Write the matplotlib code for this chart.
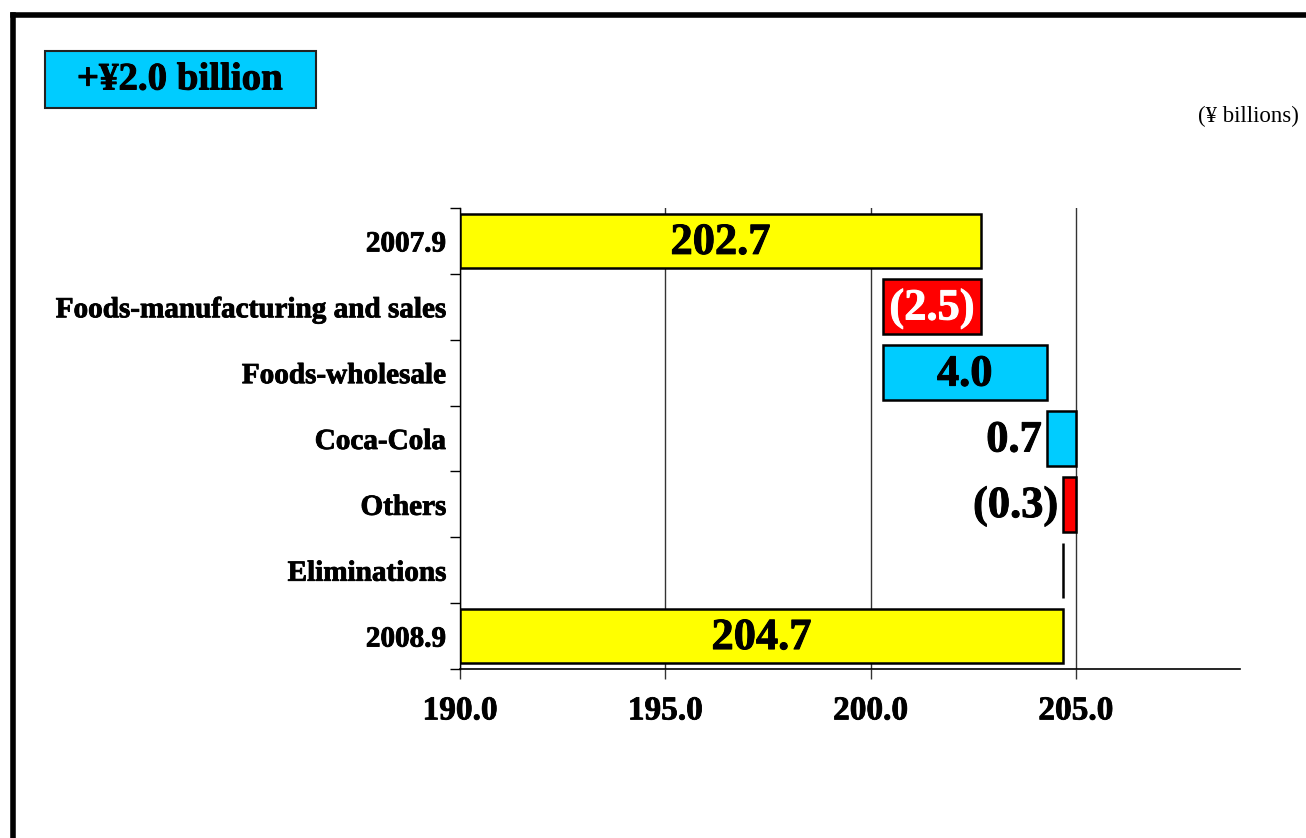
import matplotlib
matplotlib.use("Agg")
import matplotlib.pyplot as plt
import matplotlib.patheffects as pe
from matplotlib.patches import Rectangle
from matplotlib.lines import Line2D
import numpy as np

categories = ["2007.9", "Foods-manufacturing and sales", "Foods-wholesale",
              "Coca-Cola", "Others", "Eliminations", "2008.9"]
start_value = 202.7
changes = [-2.4, 4.0, 0.7, -0.3, 0.0]
end_value = 204.7
value_labels = ["202.7", "(2.5)", "4.0", "0.7", "(0.3)", "", "204.7"]
x_ticks = [190.0, 195.0, 200.0, 205.0]
x_min, x_max = 190.0, 209.0
title_text = "+\u00a52.0 billion"
unit_text = "(\u00a5 billions)"

YELLOW = "#FFFF00"
RED = "#FF0000"
CYAN = "#00CCFF"

plt.rcParams['font.family'] = 'Liberation Serif'

W, H = 1306, 838
fig = plt.figure(figsize=(W/100, H/100), dpi=100)
ax = fig.add_axes([460/W, (H-669)/H, 780/W, 461/H])

heavy = [pe.withStroke(linewidth=0.7, foreground='black')]
heavy_white = [pe.withStroke(linewidth=0.7, foreground='white')]

# compute bars
lefts, widths, colors = [], [], []
lefts.append(x_min); widths.append(start_value - x_min); colors.append(YELLOW)
cum = start_value
for c in changes:
    new = cum + c
    lefts.append(min(cum, new)); widths.append(abs(c))
    colors.append(RED if c < 0 else CYAN)
    cum = new
lefts.append(x_min); widths.append(end_value - x_min); colors.append(YELLOW)

y = np.arange(len(categories))
ax.barh(y, widths, left=lefts, height=0.83, color=colors, edgecolor='black',
        linewidth=1.8, zorder=3)

# value labels
for i, (lab, l, w) in enumerate(zip(value_labels, lefts, widths)):
    if not lab:
        continue
    if i in (3, 4):
        ax.text(l - 0.12, i + 0.03, lab, ha='right', va='center', fontsize=32,
                fontweight='bold', color='black', zorder=4, path_effects=heavy)
    else:
        col = 'white' if colors[i] == RED else 'black'
        ax.text(l + w/2, i + 0.03, lab, ha='center', va='center', fontsize=32,
                fontweight='bold', color=col, zorder=4,
                path_effects=heavy_white if col == 'white' else heavy)

ax.set_xlim(x_min, x_max)
ax.set_ylim(len(categories) - 0.5, -0.5)
ax.set_xticks(x_ticks)
ax.set_xticklabels([f"{t:.1f}" for t in x_ticks], fontsize=24, fontweight='bold')
ax.set_yticks(y)
ax.set_yticklabels(categories, fontsize=21, fontweight='bold')
ax.set_yticks(np.arange(-0.5, len(categories), 1.0), minor=True)
ax.tick_params(axis='y', which='major', length=0, pad=10)
ax.tick_params(axis='y', which='minor', length=7, width=1, direction='out')
ax.tick_params(axis='x', which='major', length=7, width=1, direction='out',
               pad=12, color='#333333')
for t in ax.get_xticklabels() + ax.get_yticklabels():
    t.set_path_effects([pe.withStroke(linewidth=0.6, foreground='black')])

ax.grid(axis='x', color='#333333', linewidth=1, zorder=0)
ax.set_axisbelow(True)
for s in ['top', 'right']:
    ax.spines[s].set_visible(False)
ax.spines['left'].set_linewidth(1)
ax.spines['bottom'].set_linewidth(1.2)

# title box
fig.add_artist(Rectangle((45/W, 1 - 108/H), 271/W, 57/H, transform=fig.transFigure,
                         facecolor=CYAN, edgecolor='#222222', linewidth=1.5))
fig.text(180/W, 1 - 80/H, title_text, ha='center', va='center', fontsize=28,
         fontweight='bold', path_effects=heavy)
# unit label
fig.text(1299/W, 1 - 116/H, unit_text, ha='right', va='center', fontsize=16.5)

# outer frame (top and left)
fig.add_artist(Line2D([13/W, 1.0], [1 - 15/H, 1 - 15/H], color='black',
                      linewidth=4, transform=fig.transFigure, solid_capstyle='projecting'))
fig.add_artist(Line2D([13/W, 13/W], [1 - 15/H, 0.0], color='black',
                      linewidth=4, transform=fig.transFigure, solid_capstyle='projecting'))

fig.savefig("out.png", dpi=100, facecolor='white')
